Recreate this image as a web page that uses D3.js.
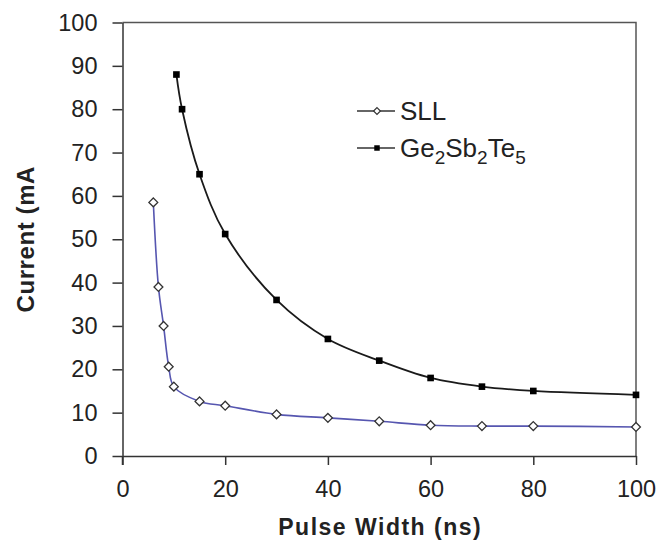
<!DOCTYPE html>
<html>
<head>
<meta charset="utf-8">
<script src="https://cdn.jsdelivr.net/npm/d3@7"></script>
<style>
  html, body { margin: 0; padding: 0; background: #fff; }
  svg { display: block; }
  text { font-family: "Liberation Sans", Arial, sans-serif; fill: #222; }
</style>
</head>
<body>
<svg id="chart" width="657" height="542"></svg>
<script>
// ---- data ----
const sllPulse   = [6, 7, 8, 9, 10, 15, 20, 30, 40, 50, 60, 70, 80, 100];
const sllCurrent = [58.5, 39, 30, 20.6, 16, 12.6, 11.6, 9.6, 8.8, 8, 7.1, 6.9, 6.9, 6.7];
const gstPulse   = [10.5, 11.6, 15, 20, 30, 40, 50, 60, 70, 80, 100];
const gstCurrent = [88, 80, 65, 51.2, 36, 27, 22, 18, 16, 15, 14.1];
const xTicks = [0, 20, 40, 60, 80, 100];
const yTicks = [0, 10, 20, 30, 40, 50, 60, 70, 80, 90, 100];
const xTitle = "Pulse Width (ns)";
const yTitle = "Current (mA";
const seriesNames = ["SLL", "Ge2Sb2Te5"];

// ---- layout ----
const svg = d3.select("#chart");
const L = 122.5, R = 636, T = 22.5, B = 456;
const x = d3.scaleLinear().domain([0, 100]).range([L, R]);
const y = d3.scaleLinear().domain([0, 100]).range([B, T]);
const axisColor = "#333";

// frame (top & right)
svg.append("path")
  .attr("d", `M${L},${T}H${R}V${B}`)
  .attr("fill", "none").attr("stroke", "#555").attr("stroke-width", 1.5);

// axes
const gx = svg.append("g").attr("transform", `translate(0,${B})`)
  .call(d3.axisBottom(x).tickValues(xTicks).tickSize(9).tickSizeOuter(0).tickPadding(15).tickFormat(d3.format("d")));
const gy = svg.append("g").attr("transform", `translate(${L},0)`)
  .call(d3.axisLeft(y).tickValues(yTicks).tickSize(10).tickSizeOuter(0).tickPadding(15).tickFormat(d3.format("d")));
[gx, gy].forEach(g => {
  g.select(".domain").attr("stroke", axisColor).attr("stroke-width", 1.5);
  g.selectAll(".tick line").attr("stroke", axisColor).attr("stroke-width", 1.5);
  g.selectAll(".tick text").style("font-size", "23.5px").attr("fill", "#222")
    .style("font-family", "'Liberation Sans', Arial, sans-serif");
});
// extend y axis slightly below x axis (as in reference)
svg.append("line").attr("x1", L).attr("x2", L).attr("y1", B).attr("y2", B + 9)
  .attr("stroke", axisColor).attr("stroke-width", 1.5);

// axis titles
svg.append("text").attr("x", (L + R) / 2 + 1).attr("y", 535)
  .attr("text-anchor", "middle").style("font-size", "23px").style("font-weight", "bold")
  .style("letter-spacing", "1.5px").text(xTitle);
svg.append("text").attr("transform", `translate(34,${(T + B) / 2 + 0}) rotate(-90)`)
  .attr("text-anchor", "middle").style("font-size", "24px").style("font-weight", "bold")
  .style("letter-spacing", "0.6px").text(yTitle);

// lines
const sllData = sllPulse.map((p, i) => [p, sllCurrent[i]]);
const gstData = gstPulse.map((p, i) => [p, gstCurrent[i]]);
const line = d3.line().x(d => x(d[0])).y(d => y(d[1])).curve(d3.curveCatmullRom.alpha(0.5));

svg.append("path").datum(sllData).attr("d", line)
  .attr("fill", "none").attr("stroke", "#5656b0").attr("stroke-width", 1.6);
svg.append("path").datum(gstData).attr("d", line)
  .attr("fill", "none").attr("stroke", "#1a1a1a").attr("stroke-width", 1.8);

// markers
const diamond = d3.symbol().type(d3.symbolDiamond2).size(50);
const square = d3.symbol().type(d3.symbolSquare).size(44);
svg.append("g").selectAll("path").data(sllData).join("path")
  .attr("transform", d => `translate(${x(d[0])},${y(d[1])})`)
  .attr("d", diamond).attr("fill", "#fff").attr("stroke", "#333").attr("stroke-width", 1.3);
svg.append("g").selectAll("path").data(gstData).join("path")
  .attr("transform", d => `translate(${x(d[0])},${y(d[1])})`)
  .attr("d", square).attr("fill", "#000");

// legend
const lg = svg.append("g");
const legY = [111, 148];
lg.append("line").attr("x1", 357).attr("x2", 395).attr("y1", legY[0]).attr("y2", legY[0])
  .attr("stroke", "#333").attr("stroke-width", 1.5);
lg.append("path").attr("transform", `translate(377,${legY[0]})`)
  .attr("d", d3.symbol().type(d3.symbolDiamond2).size(30)).attr("fill", "#fff").attr("stroke", "#333").attr("stroke-width", 1.2);
lg.append("line").attr("x1", 357).attr("x2", 395).attr("y1", legY[1]).attr("y2", legY[1])
  .attr("stroke", "#333").attr("stroke-width", 1.5);
lg.append("path").attr("transform", `translate(377,${legY[1]})`)
  .attr("d", d3.symbol().type(d3.symbolSquare).size(30)).attr("fill", "#000");

lg.append("text").attr("x", 400).attr("y", legY[0] + 9).style("font-size", "26px").text(seriesNames[0]);
const t2 = lg.append("text").attr("x", 400).attr("y", legY[1] + 9).style("font-size", "26px");
// Ge2Sb2Te5 with subscripts
const parts = [["Ge", false], ["2", true], ["Sb", false], ["2", true], ["Te", false], ["5", true]];
parts.forEach(([s, sub], i) => {
  const ts = t2.append("tspan").text(s);
  if (sub) ts.attr("dy", 7).style("font-size", "19px");
  else if (i > 0) ts.attr("dy", -7);
});
</script>
</body>
</html>
